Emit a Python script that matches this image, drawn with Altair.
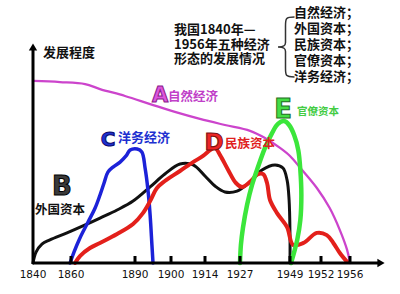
import altair as alt
import pandas as pd

# ---- data ----
tick_years = [1840, 1860, 1890, 1900, 1914, 1927, 1949, 1952, 1956]
tick_labels = ["1840", "1860", "1890", "1900", "1914", "1927", "1949", "1952", "1956"]

# A 自然经济
a_year = [1840, 1854.2, 1866.6, 1873.6, 1885.3, 1894.2, 1901.6, 1911.9, 1921.4, 1931.4,
          1938.0, 1944.6, 1949.0, 1950.0, 1951.6, 1953.2, 1954.6, 1955.6, 1956.0]
a_level = [83.5, 83.0, 82.1, 79.8, 76.6, 72.9, 69.3, 66.1, 63.3, 60.6,
           57.3, 52.8, 49.1, 43.6, 34.4, 25.2, 15.1, 6.0, 0]

# B 外国资本
b_year = [1840, 1841.6, 1844.7, 1848.9, 1857.9, 1865.6, 1873.6, 1881.6, 1889.1, 1894.2,
          1898.3, 1903.7, 1909.1, 1914.0, 1917.7, 1921.4, 1925.9, 1931.4, 1936.7, 1942.4,
          1945.9, 1947.7, 1948.6, 1949.0, 1949.0]
b_level = [0, 5.0, 8.7, 10.6, 13.8, 17.0, 20.6, 24.3, 28.4, 34.9,
           40.8, 45.4, 45.0, 39.9, 35.3, 32.6, 33.0, 37.2, 42.7, 45.0,
           43.6, 38.1, 28.9, 12.8, 0]

# C 洋务经济
c_year = [1859.5, 1861.4, 1864.2, 1868.0, 1871.3, 1873.6, 1875.5, 1877.3, 1879.7, 1883.0,
          1885.8, 1887.7, 1890.6, 1891.9, 1892.8, 1893.6, 1894.2, 1894.7, 1895.0]
c_level = [0, 5.0, 11.5, 18.8, 25.2, 31.2, 36.7, 41.7, 44.0, 46.3,
           49.1, 51.8, 52.3, 50.9, 43.6, 33.5, 22.0, 8.3, 0]

# D 民族资本
d_year = [1861.9, 1864.2, 1868.9, 1873.6, 1881.6, 1889.1, 1892.2, 1894.2, 1896.1, 1898.3,
          1903.7, 1909.1, 1913.2, 1915.9, 1917.7, 1919.6, 1922.6, 1925.5, 1927.9, 1931.4,
          1934.9, 1937.2, 1938.9, 1940.2, 1943.3, 1947.7, 1949.3, 1950.3, 1951.6, 1952.8,
          1953.7, 1954.6, 1955.6]
d_level = [0, 3.2, 6.9, 9.2, 13.3, 17.9, 22.9, 28.4, 34.4, 37.6,
           42.2, 46.3, 49.1, 51.8, 52.8, 49.5, 42.7, 36.7, 34.9, 37.2,
           40.8, 40.8, 36.7, 28.9, 22.9, 16.5, 8.3, 9.2, 13.8, 12.8,
           9.2, 4.6, 0.5]

# E 官僚资本
e_year = [1927.0, 1927.4, 1928.3, 1930.1, 1932.3, 1934.9, 1938.0, 1941.1, 1943.7, 1946.4,
          1948.6, 1949.4, 1949.8, 1950.0, 1950.1, 1950.0, 1949.7, 1949.4, 1949.1]
e_level = [0, 8.3, 16.1, 26.6, 35.8, 44.0, 52.8, 59.6, 63.8, 65.1,
           63.3, 58.7, 51.8, 42.7, 31.2, 19.7, 10.6, 5.0, 0]

title_lines = ["我国1840年—", "1956年五种经济", "形态的发展情况"]
list_lines = ["自然经济；", "外国资本；", "民族资本；", "官僚资本；", "洋务经济；"]

# ---- scales ----
xscale = alt.Scale(domain=tick_years,
                   range=[33, 71, 135, 171, 205, 240, 290, 321, 350],
                   nice=False, zero=False)
yscale = alt.Scale(domain=[0, 100], range=[263, 45], nice=False, zero=False)

one = pd.DataFrame({"k": [0]})


def curve(years, levels, color, width):
    df = pd.DataFrame({"year": years, "level": levels, "idx": list(range(len(years)))})
    return alt.Chart(df).mark_line(
        color=color, strokeWidth=width, interpolate="catmull-rom",
        strokeCap="round", strokeJoin="round"
    ).encode(
        x=alt.X("year:Q", scale=xscale, axis=None),
        y=alt.Y("level:Q", scale=yscale, axis=None),
        order="idx:Q",
    )


layers = []
layers.append(curve(a_year, a_level, "#cc44cc", 2.3))
layers.append(curve(b_year, b_level, "#111111", 3))
layers.append(curve(c_year, c_level, "#1c22d8", 3.5))
layers.append(curve(d_year, d_level, "#e3201b", 4))
layers.append(curve(e_year, e_level, "#3be63b", 4.5))

# axes lines
layers.append(alt.Chart(one).mark_rule(color="black", strokeWidth=3).encode(
    x=alt.value(33), x2=alt.value(378), y=alt.value(263)))
layers.append(alt.Chart(one).mark_rule(color="black", strokeWidth=3).encode(
    x=alt.value(33), y=alt.value(264), y2=alt.value(50)))
layers.append(alt.Chart(one).mark_point(shape="triangle-up", filled=True, color="black",
                                        size=70, opacity=1).encode(
    x=alt.value(33), y=alt.value(47)))
layers.append(alt.Chart(one).mark_point(shape="triangle-right", filled=True, color="black",
                                        size=70, opacity=1).encode(
    x=alt.value(381), y=alt.value(263)))

ticks = pd.DataFrame({"year": tick_years, "label": tick_labels})
layers.append(alt.Chart(ticks[ticks.year > 1840]).mark_rule(color="black", strokeWidth=3).encode(
    x=alt.X("year:Q", scale=xscale, axis=None), y=alt.value(256), y2=alt.value(263)))
layers.append(alt.Chart(ticks).mark_text(font="DejaVu Sans", fontSize=10.5, color="#111",
                                         baseline="middle").encode(
    x=alt.X("year:Q", scale=xscale, axis=None), y=alt.value(275), text="label:N"))

# brace
brace = ("M 0.35 -1 C 0.05 -1 0.05 -0.95 0.05 -0.7 L 0.05 -0.15 C 0.05 -0.05 0 0 -0.2 0 "
         "C 0 0 0.05 0.05 0.05 0.15 L 0.05 0.7 C 0.05 0.95 0.05 1 0.35 1")
layers.append(alt.Chart(one).mark_point(shape=brace, filled=False, color="#333",
                                        strokeWidth=1.5, size=3600, opacity=1).encode(
    x=alt.value(284), y=alt.value(47)))

cjk = "Noto Sans CJK SC"


def plain(t, x, y, size=13):
    return alt.Chart(one).mark_text(text=t, font=cjk, fontSize=size, fontWeight="bold",
                                    align="left", baseline="middle", color="#111").encode(
        x=alt.value(x), y=alt.value(y))


for i, t in enumerate(title_lines):
    layers.append(plain(t, 174, 30 + 14.5 * i))
for i, t in enumerate(list_lines):
    layers.append(plain(t, 294, 13 + 16 * i))
layers.append(plain("发展程度", 43, 53))


def letter(ch, x, y, size, fill, stroke):
    return alt.Chart(one).mark_text(text=ch, font="DejaVu Sans", fontSize=size, fontWeight="bold",
                                    align="center", baseline="middle", color=fill,
                                    stroke=stroke, strokeWidth=1).encode(
        x=alt.value(x), y=alt.value(y))


def label(t, x, y, size, color):
    return alt.Chart(one).mark_text(text=t, font=cjk, fontSize=size, fontWeight="bold",
                                    align="left", baseline="middle", color=color).encode(
        x=alt.value(x), y=alt.value(y))


layers.append(letter("A", 160, 96, 21, "#dd55dd", "#8a1a8a"))
layers.append(label("自然经济", 168, 97, 12.5, "#c040c8"))
layers.append(letter("C", 108, 140, 20, "#2030d0", "#0a0a70"))
layers.append(label("洋务经济", 118, 138, 13, "#2030d0"))
layers.append(letter("D", 214, 143, 23, "#ee2525", "#7a1010"))
layers.append(label("民族资本", 225, 144, 12.5, "#e02020"))
layers.append(letter("E", 283, 110, 26, "#44dd44", "#1f6f1f"))
layers.append(label("官僚资本", 297, 112, 10.5, "#44cc44"))
layers.append(letter("B", 62, 187, 26, "#3a3a3a", "#000000"))
layers.append(label("外国资本", 35, 210, 12.5, "#111"))

chart = alt.layer(*layers).properties(
    width=400, height=294, padding=0,
    autosize=alt.AutoSizeParams(type="none"),
    background="white",
).configure_view(stroke=None)

chart.save("out.html", embed_options={"renderer": "svg", "actions": False})
